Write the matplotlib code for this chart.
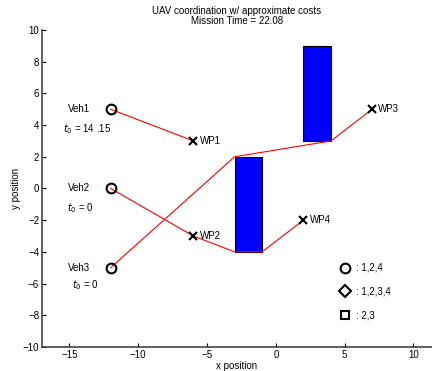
import matplotlib
matplotlib.use("Agg")
import matplotlib.pyplot as plt
from matplotlib.patches import Rectangle

plt.rcParams['font.family'] = ['Liberation Sans', 'DejaVu Sans']

# vehicles and waypoints
veh_names = ['Veh1', 'Veh2', 'Veh3']
veh_x = [-12, -12, -12]
veh_y = [5, 0, -5]
t0_labels = ['14 .15', '0', '0']

wp_names = ['WP1', 'WP2', 'WP3', 'WP4']
wp_x = [-6, -6, 7, 2]
wp_y = [3, -3, 5, -2]

# obstacles: (x, y, width, height)
obstacles = [(-3, -4, 2, 6), (2, 3, 2, 6)]

# planned routes
routes = [
    ([-12, -6], [5, 3]),
    ([-12, -6, -3, -1, 2], [0, -3, -4, -4, -2]),
    ([-12, -3, 4, 7], [-5, 2, 3, 5]),
]

# marker key
key_markers = ['o', 'D', 's']
key_labels = [': 1,2,4', ': 1,2,3,4', ': 2,3']
key_y = [-5, -6.5, -8]

fig = plt.figure(figsize=(4.32, 3.71), dpi=100)
ax = fig.add_axes([0.097, 0.065, 0.903, 0.854])

for (x, y, w, h) in obstacles:
    ax.add_patch(Rectangle((x, y), w, h, facecolor='#0000ff', edgecolor='black', lw=0.8, zorder=2))

for rx, ry in routes:
    ax.plot(rx, ry, color='red', lw=0.8, zorder=3)

ax.plot(veh_x, veh_y, 'o', ms=7, mfc='none', mec='black', mew=1.5, zorder=4)
ax.plot(wp_x, wp_y, 'x', ms=6, mec='black', mew=1.5, zorder=4)

t0_dx = [-15.5, -15.2, -14.8]
t0_dy = [-1.25, -1.25, -1.1]
for i, name in enumerate(veh_names):
    ax.text(-15.1, veh_y[i], name, fontsize=7, va='center', ha='left')
    ax.text(t0_dx[i], veh_y[i] + t0_dy[i], '$t_0$ = ' + t0_labels[i], fontsize=7,
            va='center', ha='left')

for i, name in enumerate(wp_names):
    ax.text(wp_x[i] + 0.45, wp_y[i], name, fontsize=7, va='center', ha='left')

for m, lab, y in zip(key_markers, key_labels, key_y):
    ms = 6 if m == 'D' else (7 if m == 'o' else 5.5)
    ax.plot([5], [y], m, ms=ms, mfc='none', mec='black', mew=1.5)
    ax.text(5.8, y, lab, fontsize=7, va='center', ha='left')

ax.set_xlim(-17, 11.35)
ax.set_ylim(-10, 10)
ax.set_xticks([-15, -10, -5, 0, 5, 10])
ax.set_yticks(range(-10, 11, 2))
ax.tick_params(direction='in', labelsize=7, length=3, width=0.8, pad=2)
ax.spines['top'].set_visible(False)
ax.spines['right'].set_visible(False)
for s in ['left', 'bottom']:
    ax.spines[s].set_color('#444444')
    ax.spines[s].set_linewidth(1.2)

ax.set_xlabel('x position', fontsize=7, labelpad=1)
ax.set_ylabel('y position', fontsize=7, labelpad=1)
ax.set_title('UAV coordination w/ approximate costs\nMission Time = 22.08', fontsize=7, pad=4,
             linespacing=1.1)

fig.savefig('out.png', dpi=100)
